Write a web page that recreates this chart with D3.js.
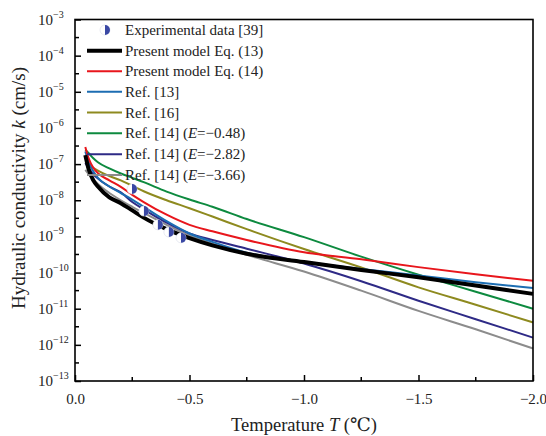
<!DOCTYPE html>
<html>
<head>
<meta charset="utf-8">
<script src="https://cdn.jsdelivr.net/npm/d3@7"></script>
<style>
  body { margin: 0; background: #fff; }
  svg { font-family: "Liberation Serif", "DejaVu Serif", serif; }
</style>
</head>
<body>
<svg id="chart"></svg>
<script>
const width = 546;
const height = 436;

// temperature (°C) where curves were read, and log10 of k (cm/s)
const temps = [-0.045, -0.06, -0.08, -0.1, -0.15, -0.2, -0.25, -0.3, -0.4, -0.5, -0.6, -0.75, -1.0, -1.25, -1.5, -1.75, -2.0];
const eq13LogK = [-6.75, -7.15, -7.45, -7.62, -7.92, -8.08, -8.28, -8.48, -8.80, -9.05, -9.25, -9.48, -9.71, -9.93, -10.13, -10.36, -10.59];
const eq14LogK = [-6.53, -6.85, -7.10, -7.25, -7.45, -7.63, -7.85, -8.05, -8.40, -8.68, -8.86, -9.10, -9.44, -9.63, -9.85, -10.05, -10.23];
const ref13LogK = [-6.65, -6.95, -7.20, -7.38, -7.62, -7.80, -7.98, -8.18, -8.58, -8.92, -9.15, -9.45, -9.70, -9.90, -10.08, -10.27, -10.43];
const ref16LogK = [-6.83, -6.98, -7.10, -7.18, -7.33, -7.45, -7.60, -7.75, -8.00, -8.22, -8.45, -8.80, -9.35, -9.86, -10.41, -10.89, -11.38];
const refE048LogK = [-6.60, -6.70, -6.84, -6.95, -7.12, -7.26, -7.38, -7.50, -7.76, -7.98, -8.18, -8.52, -9.02, -9.56, -10.06, -10.53, -11.00];
const refE282LogK = [-6.97, -7.12, -7.28, -7.40, -7.62, -7.78, -8.05, -8.25, -8.62, -8.92, -9.10, -9.34, -9.75, -10.24, -10.78, -11.29, -11.80];
const refE366LogK = [-7.16, -7.28, -7.42, -7.55, -7.80, -8.00, -8.18, -8.35, -8.68, -8.98, -9.20, -9.51, -9.97, -10.50, -11.06, -11.57, -12.10];

const expTemps = [-0.249, -0.301, -0.362, -0.41, -0.463];
const expLogK = [-7.69, -8.30, -8.68, -8.88, -9.04];

const xTicks = [0, -0.5, -1.0, -1.5, -2.0];
const xMinorTicks = [-0.25, -0.75, -1.25, -1.75];
const yExponents = [-3, -4, -5, -6, -7, -8, -9, -10, -11, -12, -13];

const series = [
  { name: 'Present model Eq. (13)', logK: eq13LogK, color: '#000000', width: 4 },
  { name: 'Present model Eq. (14)', logK: eq14LogK, color: '#e8161c', width: 2 },
  { name: 'Ref. [13]', logK: ref13LogK, color: '#1c6db2', width: 2 },
  { name: 'Ref. [16]', logK: ref16LogK, color: '#8e8a1f', width: 2 },
  { name: 'Ref. [14] (', italic: 'E', tail: '=\u22120.48)', logK: refE048LogK, color: '#0d8a3f', width: 2 },
  { name: 'Ref. [14] (', italic: 'E', tail: '=\u22122.82)', logK: refE282LogK, color: '#2e2a86', width: 2 },
  { name: 'Ref. [14] (', italic: 'E', tail: '=\u22123.66)', logK: refE366LogK, color: '#8c8c8c', width: 2 }
];
const drawOrder = [4, 3, 6, 5, 2, 1, 0];

const margin = { left: 75, right: 13, top: 19.5, bottom: 55 };
const serif = '"Liberation Serif", "DejaVu Serif", serif';

const svg = d3.select('#chart')
  .attr('width', width)
  .attr('height', height);

const x = d3.scaleLinear()
  .domain([0, -2])
  .range([margin.left, width - margin.right]);

const y = d3.scaleLog()
  .domain([1e-13, 1e-3])
  .range([height - margin.bottom, margin.top]);

const markerColor = '#3a48a4';

// curves
const line = d3.line()
  .x(d => x(d[0]))
  .y(d => y(d[1]))
  .curve(d3.curveMonotoneX);

svg.append('g')
  .selectAll('path')
  .data(drawOrder.map(i => series[i]))
  .enter()
  .append('path')
  .attr('d', s => line(temps.map((t, i) => [t, Math.pow(10, s.logK[i])])))
  .attr('fill', 'none')
  .attr('stroke', s => s.color)
  .attr('stroke-width', s => s.width)
  .attr('stroke-linejoin', 'round');

// experimental markers
function halfMarker(g) {
  g.append('circle')
    .attr('r', 5)
    .attr('fill', '#fff')
    .attr('stroke', '#d8dbea')
    .attr('stroke-width', 0.6);
  g.append('path')
    .attr('d', 'M0,-5A5,5 0 0 1 0,5Z')
    .attr('fill', markerColor);
}

svg.append('g')
  .selectAll('g')
  .data(expTemps.map((t, i) => [t, Math.pow(10, expLogK[i])]))
  .enter()
  .append('g')
  .attr('transform', d => `translate(${x(d[0])},${y(d[1])})`)
  .each(function () { halfMarker(d3.select(this)); });

// frame
svg.append('rect')
  .attr('x', margin.left)
  .attr('y', margin.top)
  .attr('width', x(-2) - x(0))
  .attr('height', y(1e-13) - y(1e-3))
  .attr('fill', 'none')
  .attr('stroke', '#000')
  .attr('stroke-width', 1.6);

// x axis
const xAxis = svg.append('g')
  .attr('transform', `translate(0,${y(1e-13)})`);

xAxis.call(d3.axisBottom(x)
  .tickValues(xTicks)
  .tickSize(-6)
  .tickPadding(12)
  .tickFormat(d => d === 0 ? '0.0' : '\u2212' + Math.abs(d).toFixed(1)));

xAxis.attr('font-family', serif).attr('font-size', 15);

xAxis.selectAll('.minor')
  .data(xMinorTicks)
  .enter()
  .append('line')
  .attr('class', 'minor')
  .attr('x1', d => x(d))
  .attr('x2', d => x(d))
  .attr('y1', 0)
  .attr('y2', -4)
  .attr('stroke', '#000')
  .attr('stroke-width', 1.5);

xAxis.select('.domain').remove();
xAxis.selectAll('.tick line').attr('stroke-width', 1.5);
xAxis.selectAll('text').attr('fill', '#222');

// y axis
const yAxis = svg.append('g')
  .attr('transform', `translate(${margin.left},0)`);

yAxis.call(d3.axisLeft(y)
  .tickValues(yExponents.map(e => Math.pow(10, e)))
  .tickSize(-6)
  .tickFormat(''));

yAxis.attr('font-family', serif).attr('text-anchor', 'start');
yAxis.select('.domain').remove();
yAxis.selectAll('.tick line').attr('stroke-width', 1.5);

yAxis.selectAll('.minor')
  .data(yExponents.slice(1))
  .enter()
  .append('line')
  .attr('class', 'minor')
  .attr('x1', 0)
  .attr('x2', 4)
  .attr('y1', e => y(Math.pow(10, e + 0.5)))
  .attr('y2', e => y(Math.pow(10, e + 0.5)))
  .attr('stroke', '#000')
  .attr('stroke-width', 1.5);

const yLabel = yAxis.selectAll('.ylab')
  .data(yExponents)
  .enter()
  .append('text')
  .attr('class', 'ylab')
  .attr('x', -37)
  .attr('y', e => y(Math.pow(10, e)) + 5)
  .attr('font-size', 15)
  .attr('fill', '#222');

yLabel.append('tspan').text('10');
yLabel.append('tspan')
  .attr('dy', -7)
  .attr('font-size', 10)
  .text(e => '\u2212' + Math.abs(e));

// axis titles
svg.append('text')
  .attr('x', x(-1))
  .attr('y', 431)
  .attr('text-anchor', 'middle')
  .attr('font-size', 18.5)
  .attr('fill', '#222')
  .call(t => {
    t.append('tspan').text('Temperature ');
    t.append('tspan').attr('font-style', 'italic').text('T');
    t.append('tspan').text(' (\u2103)');
  });

svg.append('text')
  .attr('transform', 'translate(25,188) rotate(-90)')
  .attr('text-anchor', 'middle')
  .attr('font-size', 19)
  .attr('fill', '#222')
  .call(t => {
    t.append('tspan').text('Hydraulic conductivity ');
    t.append('tspan').attr('font-style', 'italic').text('k');
    t.append('tspan').text(' (cm/s)');
  });

// legend
const legendRows = [30, 50.7, 71.2, 91.8, 112.5, 133.3, 154.2, 175];

const expItem = svg.append('g')
  .attr('transform', `translate(105,${legendRows[0]})`);
halfMarker(expItem);

svg.append('text')
  .attr('x', 125)
  .attr('y', legendRows[0] + 5)
  .attr('font-size', 15)
  .attr('fill', '#222')
  .text('Experimental data [39]');

const legend = svg.append('g')
  .selectAll('g')
  .data(series)
  .enter()
  .append('g')
  .attr('transform', (d, i) => `translate(0,${legendRows[i + 1]})`);

legend.append('line')
  .attr('x1', 87)
  .attr('x2', 122)
  .attr('stroke', d => d.color)
  .attr('stroke-width', d => d.width);

const legendText = legend.append('text')
  .attr('x', 125)
  .attr('y', 5)
  .attr('font-size', 15)
  .attr('fill', '#222');

legendText.append('tspan').text(d => d.name);
legendText.filter(d => d.italic)
  .call(t => {
    t.append('tspan').attr('font-style', 'italic').text(d => d.italic);
    t.append('tspan').text(d => d.tail);
  });
</script>
</body>
</html>
